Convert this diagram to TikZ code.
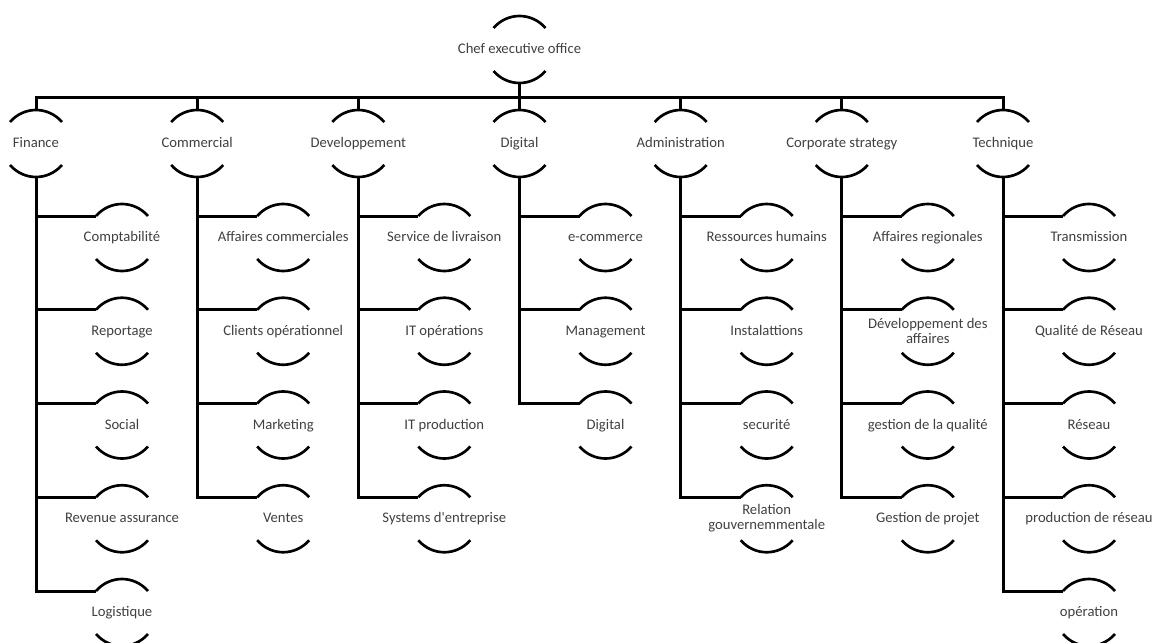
\documentclass[tikz,border=0pt]{standalone}
\usepackage{fontspec}
\setmainfont{Carlito}
\tikzset{
  lbl/.style={inner sep=0pt, font=\fontsize{11}{11}\selectfont, text=black!75, align=center},
  oneline/.style={anchor=base, yshift=-3.5pt},
  twoline/.style={anchor=center},
  arcline/.style={line width=2pt, draw=black},
  conn/.style={line width=2.25pt, draw=black},
}
\newcommand\orgbox[5][oneline]{%
  \node[lbl,#1] (#2) at (#3,#4+21) {#5};
  \coordinate (#2-t) at (#3,#4-12);
  \coordinate (#2-b) at (#3,#4+55);
  \coordinate (#2-l) at (#3-26,#4);
  \draw[arcline] (#3-26,#4) .. controls (#3-12,#4-16) and (#3+12,#4-16) .. (#3+26,#4);
  \draw[arcline] (#3-26,#4+43) .. controls (#3-12,#4+59) and (#3+12,#4+59) .. (#3+26,#4+43);
}
\begin{document}
\begin{tikzpicture}[x=0.75pt,y=-0.75pt]
\useasboundingbox (0,0) rectangle (1154,643);
\clip (0,0) rectangle (1154,643);
% top
\orgbox{ceo}{519.5}{28}{Chef executive office}
% level 1
\orgbox{fin}{36}{122}{Finance}
\orgbox{com}{197.2}{122}{Commercial}
\orgbox{dev}{358.3}{122}{Developpement}
\orgbox{dig}{519.5}{122}{Digital}
\orgbox{adm}{680.7}{122}{Administration}
\orgbox{cor}{841.8}{122}{Corporate strategy}
\orgbox{tec}{1003}{122}{Technique}
% Finance
\orgbox{fin1}{122}{216}{Comptabilité}
\orgbox{fin2}{122}{309.75}{Reportage}
\orgbox{fin3}{122}{403.5}{Social}
\orgbox{fin4}{122}{497.25}{Revenue assurance}
\orgbox{fin5}{122}{591}{Logistique}
% Commercial
\orgbox{com1}{283.2}{216}{Affaires commerciales}
\orgbox{com2}{283.2}{309.75}{Clients opérationnel}
\orgbox{com3}{283.2}{403.5}{Marketing}
\orgbox{com4}{283.2}{497.25}{Ventes}
% Developpement
\orgbox{dev1}{444.3}{216}{Service de livraison}
\orgbox{dev2}{444.3}{309.75}{IT opérations}
\orgbox{dev3}{444.3}{403.5}{IT production}
\orgbox{dev4}{444.3}{497.25}{Systems d\textquotesingle entreprise}
% Digital
\orgbox{dig1}{605.5}{216}{e-commerce}
\orgbox{dig2}{605.5}{309.75}{Management}
\orgbox{dig3}{605.5}{403.5}{Digital}
% Administration
\orgbox{adm1}{766.7}{216}{Ressources humains}
\orgbox{adm2}{766.7}{309.75}{Instalattions}
\orgbox{adm3}{766.7}{403.5}{securité}
\orgbox[twoline]{adm4}{766.7}{497.25}{Relation\\gouvernemmentale}
% Corporate strategy
\orgbox{cor1}{927.8}{216}{Affaires regionales}
\orgbox[twoline]{cor2}{927.8}{309.75}{Développement des\\affaires}
\orgbox{cor3}{927.8}{403.5}{gestion de la qualité}
\orgbox{cor4}{927.8}{497.25}{Gestion de projet}
% Technique
\orgbox{tec1}{1089}{216}{Transmission}
\orgbox{tec2}{1089}{309.75}{Qualité de Réseau}
\orgbox{tec3}{1089}{403.5}{Réseau}
\orgbox{tec4}{1089}{497.25}{production de réseau}
\orgbox{tec5}{1089}{591}{opération}
% connectors top
\coordinate (bus) at (519.5,97);
\draw[conn] (ceo-b) -- (bus);
\draw[conn] (fin-t) -- (fin-t |- bus) -- (tec-t |- bus) -- (tec-t);
\foreach \n in {com,dev,dig,adm,cor}{\draw[conn] (\n-t) -- (\n-t |- bus);}
% children connectors
\foreach \k in {1,...,5}{\draw[conn] (fin-b) |- (fin\k-l);}
\foreach \k in {1,...,4}{\draw[conn] (com-b) |- (com\k-l);}
\foreach \k in {1,...,4}{\draw[conn] (dev-b) |- (dev\k-l);}
\foreach \k in {1,...,3}{\draw[conn] (dig-b) |- (dig\k-l);}
\foreach \k in {1,...,4}{\draw[conn] (adm-b) |- (adm\k-l);}
\foreach \k in {1,...,4}{\draw[conn] (cor-b) |- (cor\k-l);}
\foreach \k in {1,...,5}{\draw[conn] (tec-b) |- (tec\k-l);}
\end{tikzpicture}
\end{document}
